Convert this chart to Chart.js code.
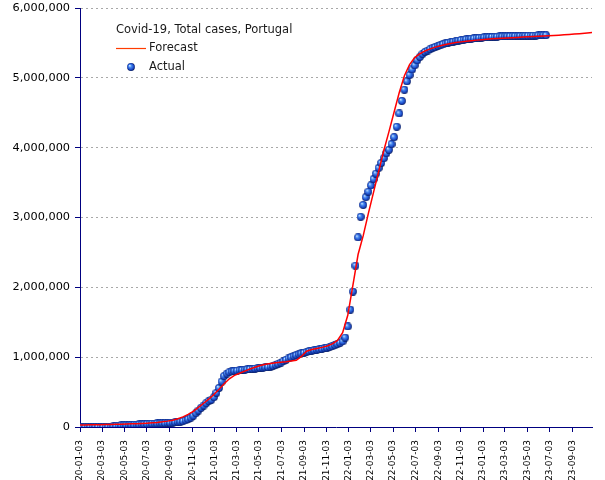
<!DOCTYPE html>
<html>
<head>
<meta charset="utf-8">
<script src="https://cdn.jsdelivr.net/npm/chart.js@4/dist/chart.umd.min.js"></script>
<style>
html,body{margin:0;padding:0;background:#fff;}
#wrap{width:605px;height:480px;position:relative;}
</style>
</head>
<body>
<div id="wrap"><canvas id="c" width="605" height="480"></canvas></div>
<script>
// ---------- data ----------
const chartTitle = 'Covid-19, Total cases, Portugal';
const seriesNames = ['Forecast', 'Actual'];
const axisOrigin = '2020-01-03';
const axisEnd = '2023-10-26';
const xTickLabels = ['2020-01-03','2020-03-03','2020-05-03','2020-07-03','2020-09-03','2020-11-03',
  '2021-01-03','2021-03-03','2021-05-03','2021-07-03','2021-09-03','2021-11-03',
  '2022-01-03','2022-03-03','2022-05-03','2022-07-03','2022-09-03','2022-11-03',
  '2023-01-03','2023-03-03','2023-05-03','2023-07-03','2023-09-03'];
const yTickValues = [0,1000000,2000000,3000000,4000000,5000000,6000000];

// Actual: weekly observations starting 2020-01-03
const actualStart = '2020-01-03';
const actualStepDays = 7;
const actualValues = [
  0,0,0,0,0,0,0,0,0,13,
  112,1020,4268,9886,15472,19022,22797,25190,26715,28810,
  30200,31946,33969,36180,38841,41189,43897,46221,48390,49955,
  51463,52668,53981,55211,57448,59457,63310,68025,72939,77284,
  83928,95902,112440,132616,161350,198011,236015,274011,307618,340287,
  370787,390000,427000,490000,560000,650000,730000,765000,785000,796000,
  803000,808000,813000,817000,821000,825000,829000,833000,837000,841000,
  845000,849000,853000,858000,866000,876000,889000,904000,922000,942000,
  962000,981000,998000,1014000,1028000,1041000,1053000,1064000,1074000,1083000,
  1091000,1098000,1105000,1112000,1119000,1127000,1136000,1146000,1158000,1172000,
  1188000,1206000,1226000,1280000,1440000,1680000,1940000,2310000,2715000,3010000,
  3180000,3290000,3370000,3460000,3550000,3630000,3710000,3780000,3850000,3920000,
  3970000,4050000,4150000,4300000,4490000,4670000,4830000,4950000,5040000,5120000,
  5180000,5250000,5300000,5340000,5370000,5390000,5410000,5430000,5440000,5455000,
  5467000,5480000,5492000,5502000,5511000,5519000,5527000,5534000,5540000,5546000,
  5551000,5556000,5561000,5565000,5569000,5573000,5576000,5579000,5582000,5584000,
  5586000,5588000,5590000,5592000,5593000,5594000,5595000,5596000,5597000,5598000,
  5599000,5600000,5601000,5602000,5603000,5604000,5605000,5606000,5607000,5608000,
  5609000,5610000
];

// Forecast: every 14 days starting 2020-01-03
const forecastStart = '2020-01-03';
const forecastStepDays = 14;
const forecastValues = [
  30000,30000,31000,32000,33000,35000,37000,39000,41000,43000,
  45000,48000,51000,55000,60000,66000,74000,84000,98000,118000,
  145000,180000,225000,280000,340000,400000,465000,540000,620000,690000,
  740000,770000,800000,830000,855000,880000,897000,910000,920000,928000,
  935000,945000,955000,1010000,1085000,1110000,1125000,1140000,1160000,1190000,
  1240000,1350000,1600000,2030000,2470000,2740000,3060000,3360000,3660000,3960000,
  4230000,4510000,4790000,5030000,5190000,5290000,5345000,5385000,5415000,5440000,
  5460000,5478000,5493000,5505000,5515000,5524000,5532000,5540000,5547000,5553000,
  5558000,5563000,5567000,5571000,5575000,5579000,5583000,5587000,5591000,5595000,
  5599000,5603000,5607000,5611000,5616000,5621000,5627000,5633000,5639000,5645000,
  5651000
];

// ---------- helpers ----------
const DAY = 86400000;
const dayOf = s => Math.round((Date.parse(s + 'T00:00:00Z') - Date.parse(axisOrigin + 'T00:00:00Z')) / DAY);
const tickDays = xTickLabels.map(dayOf);
const labelByDay = {};
tickDays.forEach((d, i) => { labelByDay[d] = xTickLabels[i]; });
const actualData = actualValues.map((v, i) => ({ x: dayOf(actualStart) + i * actualStepDays, y: v }));
const forecastData = forecastValues.map((v, i) => ({ x: dayOf(forecastStart) + i * forecastStepDays, y: v }));

// shaded sphere marker
const sphere = document.createElement('canvas');
sphere.width = 8; sphere.height = 8;
(function () {
  const g = sphere.getContext('2d');
  const grad = g.createRadialGradient(2.7, 2.6, 0.2, 4, 4, 4.2);
  grad.addColorStop(0, '#cfe6ff');
  grad.addColorStop(0.3, '#4a8ef2');
  grad.addColorStop(0.7, '#1a48c8');
  grad.addColorStop(1, '#00104a');
  g.fillStyle = grad;
  g.beginPath(); g.arc(4, 4, 3.9, 0, Math.PI * 2); g.fill();
})();

const FONT = 'DejaVu Sans';

const legendPlugin = {
  id: 'insideLegend',
  afterDraw(chart) {
    const ctx = chart.ctx;
    ctx.save();
    ctx.font = '11.5px "' + FONT + '"';
    ctx.fillStyle = '#1a1a1a';
    ctx.textBaseline = 'middle';
    ctx.textAlign = 'left';
    ctx.fillText(chartTitle, 116, 30);
    ctx.strokeStyle = '#ff3c00';
    ctx.lineWidth = 1.2;
    ctx.beginPath(); ctx.moveTo(116, 48.5); ctx.lineTo(146, 48.5); ctx.stroke();
    ctx.fillText(seriesNames[0], 149, 48);
    ctx.drawImage(sphere, 127, 63);
    ctx.fillText(seriesNames[1], 149, 67);
    ctx.restore();
  }
};

new Chart(document.getElementById('c'), {
  type: 'line',
  data: {
    datasets: [
      {
        label: seriesNames[0],
        data: forecastData,
        borderColor: '#ff0000',
        borderWidth: 1.5,
        pointRadius: 0,
        tension: 0,
        fill: false
      },
      {
        label: seriesNames[1],
        data: actualData,
        showLine: false,
        pointStyle: sphere,
        pointRadius: 4,
        backgroundColor: '#2060e0',
        borderColor: '#2060e0'
      }
    ]
  },
  options: {
    responsive: false,
    animation: false,
    events: [],
    devicePixelRatio: 1,
    layout: { padding: { top: 8, right: 13, left: 0, bottom: 0 } },
    plugins: {
      legend: { display: false },
      tooltip: { enabled: false },
      title: { display: false }
    },
    scales: {
      x: {
        type: 'linear',
        min: 0,
        max: dayOf(axisEnd),
        afterBuildTicks: s => { s.ticks = tickDays.map(v => ({ value: v })); },
        afterFit: s => { s.height = 53; s.paddingLeft = 0; s.paddingRight = 0; },
        ticks: {
          autoSkip: false,
          maxRotation: 90,
          minRotation: 90,
          padding: 8,
          color: '#000',
          font: { family: FONT, size: 9 },
          callback: v => labelByDay[v]
        },
        grid: { drawOnChartArea: false, drawTicks: true, tickLength: 5, tickColor: '#000080', color: '#000080' },
        border: { display: true, color: '#000080', width: 1 }
      },
      y: {
        min: 0,
        max: 6000000,
        afterBuildTicks: s => { s.ticks = yTickValues.map(v => ({ value: v })); },
        afterFit: s => { s.width = 80; s.paddingTop = 0; s.paddingBottom = 0; },
        ticks: {
          padding: 5,
          color: '#000',
          font: { family: FONT, size: 11.3 },
          callback: v => Number(v).toLocaleString('en-US')
        },
        grid: {
          color: c => (c.tick && c.tick.value === 0) ? 'rgba(0,0,0,0)' : '#a8a8a8',
          tickColor: '#000080',
          tickLength: 5,
          lineWidth: 1
        },
        border: { display: true, color: '#000080', width: 1, dash: [2, 3] }
      }
    }
  },
  plugins: [legendPlugin]
});
</script>
</body>
</html>
